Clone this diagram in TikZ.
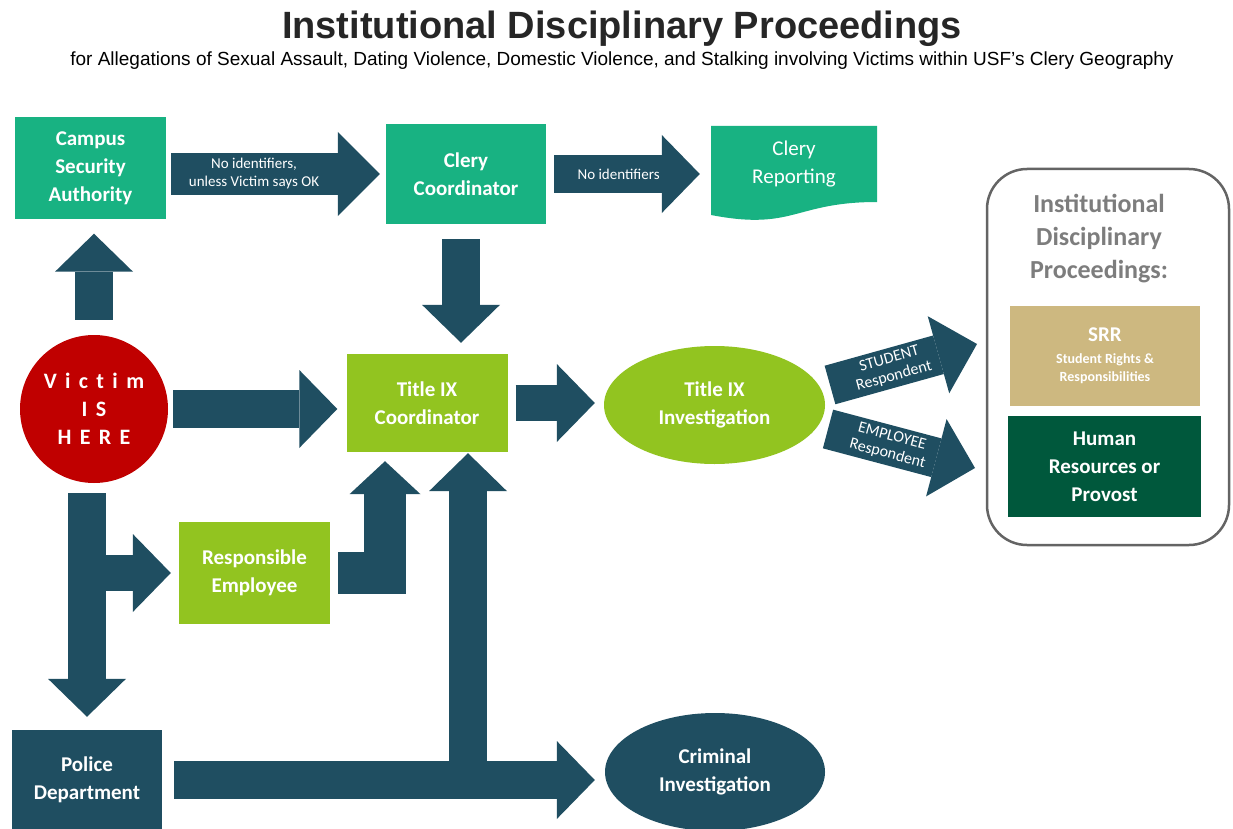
\documentclass[tikz,border=0pt]{standalone}
\usepackage{fontspec}
\setmainfont{Carlito}
\newfontfamily\arialfont{Liberation Sans}
\newfontfamily\spacedfont[LetterSpace=38,Ligatures=NoCommon]{Carlito}
\usetikzlibrary{arrows.meta,shapes.geometric}
\definecolor{cleryteal}{RGB}{24,178,130}
\definecolor{slate}{RGB}{31,78,97}
\definecolor{lime}{RGB}{146,196,32}
\definecolor{victimred}{RGB}{192,0,0}
\definecolor{srrtan}{RGB}{205,184,128}
\definecolor{hrgreen}{RGB}{0,88,60}
\definecolor{panelgray}{RGB}{125,125,125}
\tikzset{
  box/.style={inner sep=0pt, align=center, text=white, font=\bfseries\fontsize{21}{28}\selectfont},
  blockarrow/.style={draw=slate, line width=38pt, -{Triangle[length=38pt,width=78pt,line width=0pt]}, shorten <=8pt, shorten >=9pt},
  arrowtext/.style={text=white, align=center, font=\fontsize{15}{18}\selectfont}
}
\begin{document}
\begin{tikzpicture}[x=1pt,y=-1pt]
\fill[white] (0,0) rectangle (1233,829);
\useasboundingbox (0,0) rectangle (1233,829);
% title
\node (title) [font=\arialfont\bfseries\fontsize{38}{40}\selectfont, text=black!85] at (622,29) {Institutional Disciplinary Proceedings};
\node (subtitle) [font=\arialfont\fontsize{19}{22}\selectfont] at (622,61) {for Allegations of Sexual Assault, Dating Violence, Domestic Violence, and Stalking involving Victims within USF’s Clery Geography};
% boxes
\node (csa) [box, fill=cleryteal, minimum width=151pt, minimum height=101pt] at (90.5,168) {Campus\\Security\\Authority};
\node (clery) [box, fill=cleryteal, minimum width=160pt, minimum height=100pt] at (466,174) {Clery\\Coordinator};
\fill[cleryteal] (711,126) -- (877,126) -- (877,202) .. controls (794,202) and (794,231) .. (711,215) -- cycle;
\node (clrep) [box, font=\fontsize{21}{28}\selectfont, minimum width=166pt, minimum height=76pt] at (794,164) {Clery\\Reporting};
\node (victim) [circle, fill=victimred, minimum size=148pt, inner sep=0pt, text=white, align=center, font=\spacedfont\bfseries\fontsize{22}{28}\selectfont] at (94,409) {Victim\\IS\\HERE};
\node (tix) [box, fill=lime, minimum width=161pt, minimum height=98pt] at (427,403) {Title IX\\Coordinator};
\node (inv) [box, ellipse, fill=lime, minimum width=221pt, minimum height=118pt] at (714.5,405) {Title IX\\Investigation};
\node (resp) [box, fill=lime, minimum width=151pt, minimum height=102pt] at (254.5,573) {Responsible\\Employee};
\node (police) [box, fill=slate, minimum width=150pt, minimum height=100pt] at (87,780) {Police\\Department};
\node (crim) [box, ellipse, fill=slate, minimum width=220pt, minimum height=118pt] at (715,772) {Criminal\\Investigation};
% disciplinary panel
\node (panel) [draw=panelgray!80!black, line width=2.5pt, rounded corners=40pt, minimum width=242pt, minimum height=376pt] at (1108,357) {};
\node (paneltitle) [text=panelgray, font=\bfseries\fontsize{26}{33}\selectfont, align=center] at (1099,239) {Institutional\\Disciplinary\\Proceedings:};
\node (srr) [box, fill=srrtan, minimum width=190pt, minimum height=100pt] at (1105,356) {SRR\\[-6pt]{\fontsize{14}{16}\selectfont Student Rights \&}\\[-10pt]{\fontsize{14}{16}\selectfont Responsibilities}};
\node (hr) [box, fill=hrgreen, minimum width=193pt, minimum height=101pt] at (1104.5,466.5) {Human\\Resources or\\Provost};
% arrows
\draw[blockarrow, line width=41pt, -{Triangle[length=42pt,width=84pt,line width=0pt]}, shorten <=5pt, shorten >=6pt] (csa.east |- clery.west) -- node[arrowtext, pos=.4] {No identifiers,\\unless Victim says OK} (clery.west);
\draw[blockarrow, shorten >=11pt] (clery.east) -- node[arrowtext, pos=.44] {No identifiers} (clery.east -| clrep.west);
\draw[blockarrow, shorten <=15pt, shorten >=15pt] (victim.north) -- (victim.north |- csa.south);
\draw[blockarrow, shorten <=15pt, shorten >=11pt] ([xshift=-5pt]clery.south) -- ([xshift=-5pt]clery.south |- tix.north);
\draw[blockarrow, shorten <=5pt] (victim.east) -- (victim.east -| tix.west);
\draw[blockarrow, line width=36pt] (tix.east) -- (tix.east -| inv.west);
\coordinate (stu-a) at (830,385);
\coordinate (stu-b) at (977,344);
\coordinate (emp-a) at (828,429);
\coordinate (emp-b) at (975,468);
\draw[blockarrow, line width=40pt, -{Triangle[length=40pt,width=80pt,line width=0pt]}, shorten <=0pt, shorten >=0pt] (stu-a) -- node[arrowtext, sloped, pos=.42, font=\fontsize{16}{18}\selectfont] {STUDENT\\Respondent} (stu-b);
\draw[blockarrow, line width=40pt, -{Triangle[length=40pt,width=80pt,line width=0pt]}, shorten <=0pt, shorten >=0pt] (emp-a) -- node[arrowtext, sloped, pos=.42, font=\fontsize{16}{18}\selectfont] {EMPLOYEE\\Respondent} (emp-b);
\draw[blockarrow, shorten <=10pt, shorten >=13pt] (victim.south -| police.north) -- (police.north);
\draw[blockarrow, line width=36pt, shorten <=0pt, shorten >=8pt] (resp.west -| police.north) -- (resp.west);
\draw[blockarrow, line width=42pt, -{Triangle[length=33pt,width=71pt,line width=0pt]}] (resp.east) -| ([xshift=-42pt]tix.south);
\draw[blockarrow, shorten <=12pt, shorten >=10pt] (police.east) -- (police.east -| crim.west);
\draw[blockarrow, shorten <=0pt, shorten >=1pt] ([xshift=41pt]tix.south |- police.east) -- ([xshift=41pt]tix.south);
\end{tikzpicture}
\end{document}
